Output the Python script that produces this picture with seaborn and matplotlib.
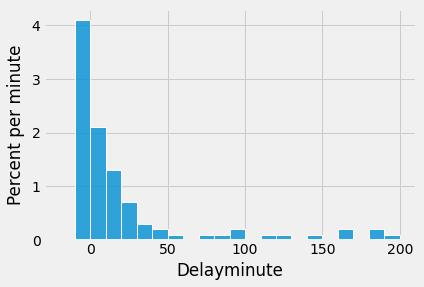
import numpy as np
import pandas as pd
import matplotlib
matplotlib.use("Agg")
import matplotlib.pyplot as plt
import seaborn as sns

bin_edges = [-10, 0, 10, 20, 30, 40, 50, 60, 70, 80, 90, 100, 110, 120, 130,
             140, 150, 160, 170, 180, 190, 200]
percent_per_minute = [4.1, 2.1, 1.3, 0.7, 0.3, 0.2, 0.1, 0.0, 0.1, 0.1, 0.2,
                      0.0, 0.1, 0.1, 0.0, 0.1, 0.0, 0.2, 0.0, 0.2, 0.1]

mids = [(a + b) / 2 for a, b in zip(bin_edges[:-1], bin_edges[1:])]
df = pd.DataFrame({"Delayminute": mids, "pct": percent_per_minute})

plt.style.use("fivethirtyeight")
fig = plt.figure(figsize=(424 / 72, 287 / 72), dpi=72)
ax = fig.add_axes([44 / 424, 47 / 287, 372 / 424, 231 / 287])

sns.histplot(data=df, x="Delayminute", weights="pct", bins=bin_edges,
             stat="count", color="#008fd5", alpha=0.8, edgecolor="white",
             linewidth=1, ax=ax)

ax.set_xlim(-30, 210.5)
ax.set_ylim(0, 4.305)
ax.set_xticks([0, 50, 100, 150, 200])
ax.set_yticks([0, 1, 2, 3, 4])
ax.set_xlabel("Delayminute", fontsize=16.8)
ax.set_ylabel("Percent per minute", fontsize=16.8, labelpad=7)
ax.tick_params(labelsize=14)
ax.set_axisbelow(True)

fig.savefig("out.png", dpi=72, facecolor=fig.get_facecolor())
